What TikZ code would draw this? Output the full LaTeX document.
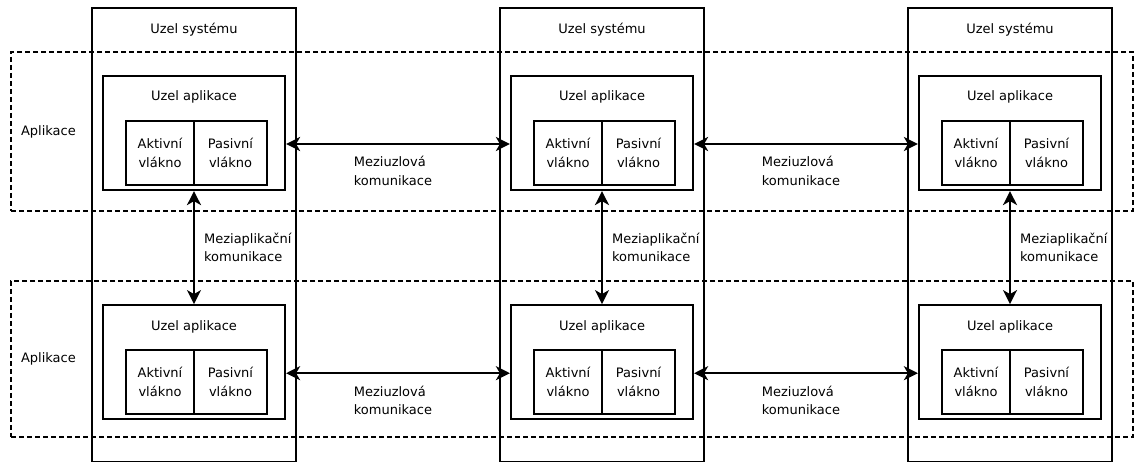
\documentclass[tikz,border=0pt]{standalone}
\usepackage{fontspec}
\setmainfont{DejaVu Sans}
\usetikzlibrary{arrows.meta,positioning}

\begin{document}
\begin{tikzpicture}[x=1pt,y=-1pt,>={Stealth[length=14pt,width=14pt,inset=4pt]},
    line width=2.2pt,font=\fontsize{13}{18.5}\selectfont,
    txt/.style={inner sep=0pt,align=center},
    approw/.style={draw,dash pattern=on 5pt off 3pt,minimum width=1122pt,minimum height=159pt},
    sysbox/.style={draw,minimum width=204pt,minimum height=454.5pt},
    appbox/.style={draw,minimum width=182pt,minimum height=114pt},
    thread/.style={draw,txt,minimum height=64pt,outer sep=0pt},
    link/.style={<->}]
    \useasboundingbox (0,0) rectangle (1135,462);

    \node[approw] (rowA) at (572,131.5) {};
    \node[approw,minimum height=156pt] (rowB) at (572,359) {};
    \node[txt] (lblA) [right=10pt of rowA.west] {Aplikace};
    \node[txt] (lblB) [right=10pt of rowB.west] {Aplikace};

    \node[sysbox] (sys1) at (194,235.25) {};
    \node[sysbox] (sys2) at (602,235.25) {};
    \node[sysbox] (sys3) at (1010,235.25) {};
    \node[txt] (sysl1) [below=15pt of sys1.north,on grid] {Uzel systému};
    \node[txt] (sysl2) [below=15pt of sys2.north,on grid] {Uzel systému};
    \node[txt] (sysl3) [below=15pt of sys3.north,on grid] {Uzel systému};

    \node[appbox] (app11) [below=68pt of sys1.north] {};
    \node[appbox] (app12) [below=68pt of sys2.north] {};
    \node[appbox] (app13) [below=68pt of sys3.north] {};
    \node[appbox] (app21) [below=113pt of app11] {};
    \node[appbox] (app22) [below=113pt of app12] {};
    \node[appbox] (app23) [below=113pt of app13] {};

    \node[txt] (appl11) [below=15pt of app11.north,on grid] {Uzel aplikace};
    \node[txt] (appl12) [below=15pt of app12.north,on grid] {Uzel aplikace};
    \node[txt] (appl13) [below=15pt of app13.north,on grid] {Uzel aplikace};
    \node[txt] (appl21) [below=15pt of app21.north,on grid] {Uzel aplikace};
    \node[txt] (appl22) [below=15pt of app22.north,on grid] {Uzel aplikace};
    \node[txt] (appl23) [below=15pt of app23.north,on grid] {Uzel aplikace};

    \node[thread,minimum width=68pt] (act11) [below left=46pt and 0pt of app11.north] {Aktivní\\vlákno};
    \node[thread,minimum width=73pt] (pas11) [right=0pt of act11] {Pasivní\\vlákno};
    \node[thread,minimum width=68pt] (act12) [below left=46pt and 0pt of app12.north] {Aktivní\\vlákno};
    \node[thread,minimum width=73pt] (pas12) [right=0pt of act12] {Pasivní\\vlákno};
    \node[thread,minimum width=68pt] (act13) [below left=46pt and 0pt of app13.north] {Aktivní\\vlákno};
    \node[thread,minimum width=73pt] (pas13) [right=0pt of act13] {Pasivní\\vlákno};
    \node[thread,minimum width=68pt] (act21) [below left=46pt and 0pt of app21.north] {Aktivní\\vlákno};
    \node[thread,minimum width=73pt] (pas21) [right=0pt of act21] {Pasivní\\vlákno};
    \node[thread,minimum width=68pt] (act22) [below left=46pt and 0pt of app22.north] {Aktivní\\vlákno};
    \node[thread,minimum width=73pt] (pas22) [right=0pt of act22] {Pasivní\\vlákno};
    \node[thread,minimum width=68pt] (act23) [below left=46pt and 0pt of app23.north] {Aktivní\\vlákno};
    \node[thread,minimum width=73pt] (pas23) [right=0pt of act23] {Pasivní\\vlákno};

    \draw[link] (app11) -- (app21) node[txt,midway,right=9pt,align=left] (mal1) {Meziaplikační\\komunikace};
    \draw[link] (app12) -- (app22) node[txt,midway,right=9pt,align=left] (mal2) {Meziaplikační\\komunikace};
    \draw[link] (app13) -- (app23) node[txt,midway,right=9pt,align=left] (mal3) {Meziaplikační\\komunikace};

    \draw[link] ([yshift=-11pt]app11.east) -- ([yshift=-11pt]app12.west) node[txt,midway,yshift=-27pt,xshift=-5pt,align=left] (mul11) {Meziuzlová\\komunikace};
    \draw[link] ([yshift=-11pt]app12.east) -- ([yshift=-11pt]app13.west) node[txt,midway,yshift=-27pt,xshift=-5pt,align=left] (mul12) {Meziuzlová\\komunikace};
    \draw[link] ([yshift=-11pt]app21.east) -- ([yshift=-11pt]app22.west) node[txt,midway,yshift=-27pt,xshift=-5pt,align=left] (mul21) {Meziuzlová\\komunikace};
    \draw[link] ([yshift=-11pt]app22.east) -- ([yshift=-11pt]app23.west) node[txt,midway,yshift=-27pt,xshift=-5pt,align=left] (mul22) {Meziuzlová\\komunikace};
\end{tikzpicture}
\end{document}
